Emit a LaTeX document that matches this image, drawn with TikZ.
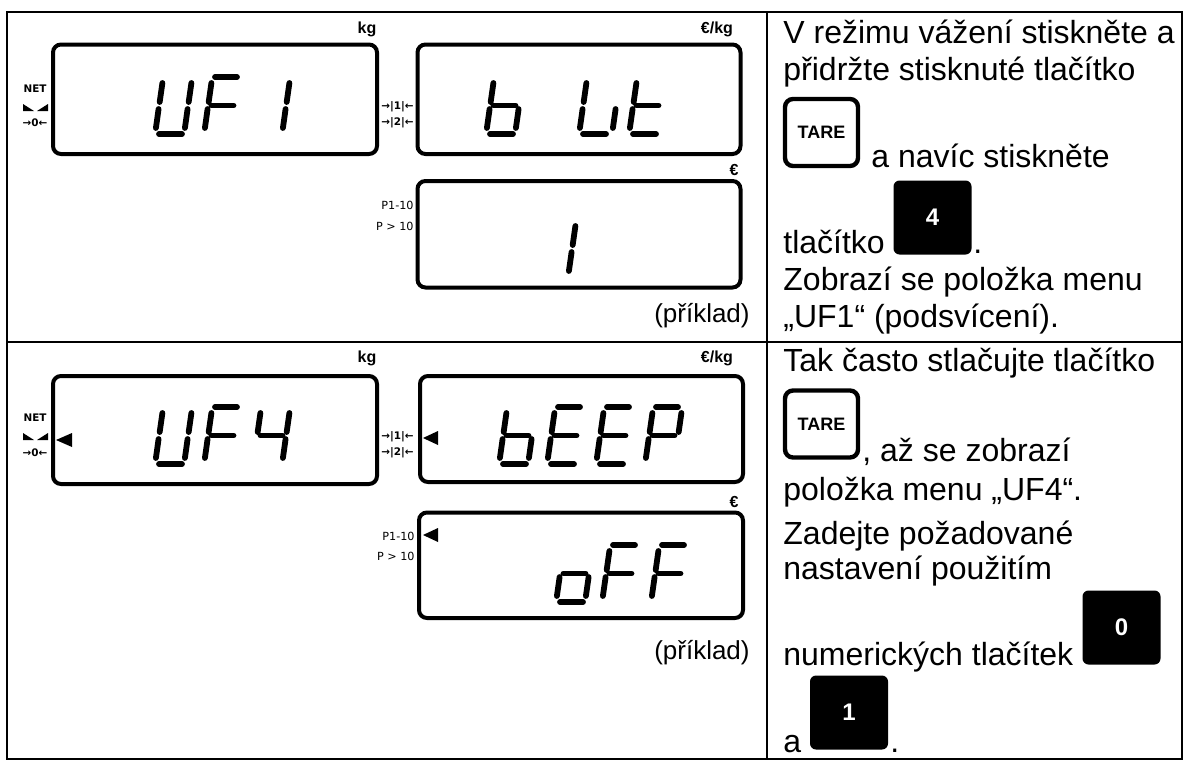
\documentclass[tikz,border=0pt]{standalone}
\usepackage{fontspec}
\setmainfont{Liberation Sans}
\newfontfamily\symfont{DejaVu Sans}
\usetikzlibrary{positioning}
\tikzset{
  tbl/.style={line width=1pt},
  lcd/.style={line width=2pt,rounded corners=4pt},
  seg/.style={line width=2.9pt,line cap=round},
  seg a/.style={insert path={(11,-57)--(33,-57)}},
  seg b/.style={insert path={(33.7,-32)--(36.4,-51)}},
  seg c/.style={insert path={(29.9,-6)--(32.6,-25)}},
  seg d/.style={insert path={(4,0)--(27,0)}},
  seg e/.style={insert path={(0.9,-6)--(3.6,-25)}},
  seg f/.style={insert path={(4.7,-32)--(7.4,-51)}},
  seg g/.style={insert path={(7.5,-28.5)--(29.5,-28.5)}},
  pics/lcdchar/.style={code={\foreach \s in {#1} \draw[seg] [seg \s];}},
  txt/.style={font=\fontsize{16pt}{19pt}\selectfont,anchor=base west,inner sep=0pt},
  note/.style={font=\fontsize{13pt}{15pt}\selectfont,anchor=base east,inner sep=0pt},
  unit/.style={font=\bfseries\fontsize{8pt}{9pt}\selectfont,inner sep=0pt},
  mini/.style={font=\symfont\bfseries\fontsize{5.2pt}{6pt}\selectfont,inner sep=0pt},
  ptxt/.style={font=\symfont\fontsize{5.6pt}{6pt}\selectfont,inner sep=0pt,anchor=east},
  wkey/.style={draw,line width=2.2pt,rounded corners=4pt,fill=white,minimum width=36.5pt,
    minimum height=33.5pt,inner sep=0pt,font=\bfseries\fontsize{9pt}{10pt}\selectfont},
  bkey/.style={fill=black,rounded corners=3pt,minimum width=39pt,minimum height=37pt,
    inner sep=0pt,text=white,font=\bfseries\fontsize{12pt}{13pt}\selectfont},
}
\begin{document}
\begin{tikzpicture}[x=0.5pt,y=-0.5pt]
\useasboundingbox (0,0) rectangle (1189,760);
% table
\draw[tbl] (7,12) rectangle (1182,759);
\draw[tbl] (767,12) -- (767,759);
\draw[tbl] (7,342) -- (1182,342);

% ---- row 1 displays
\draw[lcd] (53,44.5) rectangle (377,154);
\draw[lcd] (417.5,44.5) rectangle (740.5,154);
\draw[lcd] (417.5,181) rectangle (740.5,287.5);
\node[unit] (kg1) at (367,29) {kg};
\node[unit] (ekg1) at (717,29) {€/kg};
\node[unit] (eur1) at (734,170) {€};
\node[mini] (net1) at (35,89) {NET};
\fill (23,104) -- (23,111) -- (34,111) -- cycle;
\fill (48,104) -- (48,111) -- (37,111) -- cycle;
\node[mini] (zero1) at (35,123) {→0←};
\node[mini,anchor=east] (ta1) at (414,107) {→|1|←};
\node[mini,anchor=east] (tb1) at (414,123) {→|2|←};
\node[ptxt] (pa1) at (414,205) {P1-10};
\node[ptxt] (pb1) at (414,226) {P > 10};
\pic at (155,134) {lcdchar={b,c,d,e,f}};
\pic at (204,134) {lcdchar={a,e,f,g}};
\pic at (253,134) {lcdchar={b,c}};
\pic at (486,134) {lcdchar={c,d,e,f,g}};
\pic at (579,134) {lcdchar={d,e,f}};
\pic at (583,134) {lcdchar={c}};
\pic at (629,134) {lcdchar={d,e,f,g}};
\pic at (539,277) {lcdchar={b,c}};
\node[note] (ex1) at (750,322) {(příklad)};

% ---- row 1 text
\node[txt] (t1) at (783,43) {V režimu vážení stiskněte a};
\node[txt] (t2) at (783,80) {přidržte stisknuté tlačítko};
\node[wkey] (tare1) at (821.5,132.5) {TARE};
\node[txt] (t3) at (871,167) {a navíc stiskněte};
\node[txt] (t4) at (783,253) {tlačítko};
\node[bkey] (k4) at (932.5,217.5) {4};
\node[txt] (t5) at (973,253) {.};
\node[txt] (t6) at (783,290) {Zobrazí se položka menu};
\node[txt] (t7) at (783,327) {„UF1“ (podsvícení).};

% ---- row 2 displays
\draw[lcd] (53,376) rectangle (377,484);
\draw[lcd] (420,376) rectangle (743,482);
\draw[lcd] (419,512.5) rectangle (743,618);
\node[unit] (kg2) at (367,358) {kg};
\node[unit] (ekg2) at (717,358) {€/kg};
\node[unit] (eur2) at (734,502) {€};
\node[mini] (net2) at (35,418) {NET};
\fill (23,433) -- (23,440) -- (34,440) -- cycle;
\fill (48,433) -- (48,440) -- (37,440) -- cycle;
\node[mini] (zero2) at (35,453) {→0←};
\fill (72,433) -- (72,447) -- (56,440) -- cycle;
\node[mini,anchor=east] (ta2) at (414,437) {→|1|←};
\node[mini,anchor=east] (tb2) at (414,453) {→|2|←};
\fill (438,431) -- (438,445) -- (423,438) -- cycle;
\node[ptxt] (pa2) at (415,536) {P1-10};
\node[ptxt] (pb2) at (415,556) {P > 10};
\fill (438,528) -- (438,542) -- (423,535) -- cycle;
\pic at (155,464) {lcdchar={b,c,d,e,f}};
\pic at (204,464) {lcdchar={a,e,f,g}};
\pic at (253,464) {lcdchar={b,c,f,g}};
\pic at (499,464) {lcdchar={c,d,e,f,g}};
\pic at (547,464) {lcdchar={a,d,e,f,g}};
\pic at (596,464) {lcdchar={a,d,e,f,g}};
\pic at (645,464) {lcdchar={a,b,e,f,g}};
\pic at (556,602) {lcdchar={c,d,e,g}};
\pic at (602,602) {lcdchar={a,e,f,g}};
\pic at (651,602) {lcdchar={a,e,f,g}};
\node[note] (ex2) at (750,659) {(příklad)};

% ---- row 2 text
\node[txt] (t8) at (783,371) {Tak často stlačujte tlačítko};
\node[wkey] (tare2) at (821.5,424) {TARE};
\node[txt] (t9) at (862,461) {, až se zobrazí};
\node[txt] (t10) at (783,500) {položka menu „UF4“.};
\node[txt] (t11) at (783,544) {Zadejte požadované};
\node[txt] (t12) at (783,579) {nastavení použitím};
\node[bkey] (k0) at (1121.5,627.5) {0};
\node[txt] (t13) at (783,665) {numerických tlačítek};
\node[bkey] (k1) at (849,712.5) {1};
\node[txt] (t14) at (783,752) {a};
\node[txt] (t15) at (890,752) {.};
\end{tikzpicture}
\end{document}
